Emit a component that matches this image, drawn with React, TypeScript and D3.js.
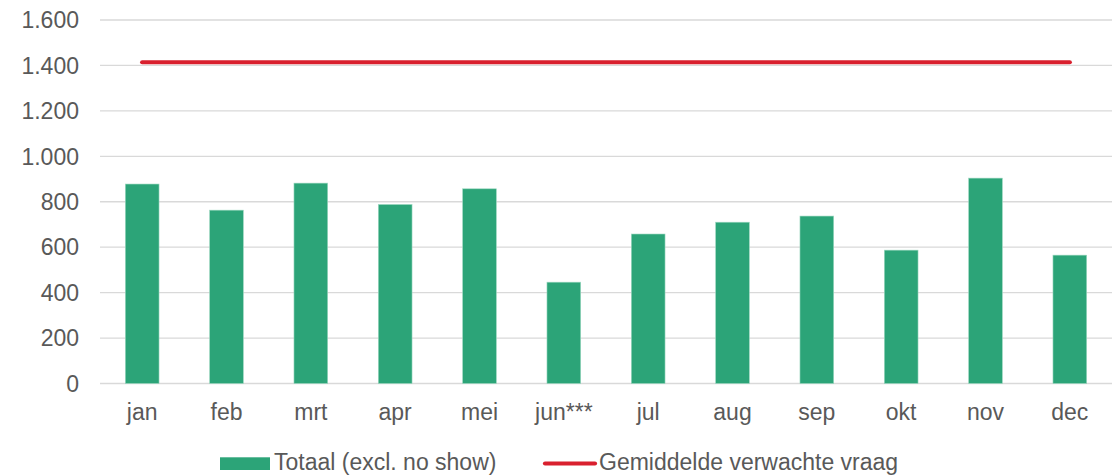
import React from 'react';
import * as d3 from 'd3';

const months = ['jan', 'feb', 'mrt', 'apr', 'mei', 'jun***', 'jul', 'aug', 'sep', 'okt', 'nov', 'dec'];
const totaal = [878, 763, 882, 788, 857, 446, 658, 710, 737, 587, 904, 565];
const verwacht = [1414, 1414, 1414, 1414, 1414, 1414, 1414, 1414, 1414, 1414, 1414, 1414];
const yTicks = [0, 200, 400, 600, 800, 1000, 1200, 1400, 1600];

const W = 1119;
const H = 475;
const left = 100;
const right = 1112;
const top = 20;
const bottom = 383.5;
const font = '"Liberation Sans", Arial, sans-serif';
const textColor = '#595959';
const fs = 23;

const fmt = (v: number) => d3.format(',')(v).replace(/,/g, '.');

const App: React.FC = () => {
  const xc = d3.scaleBand<string>().domain(months).range([left, right]);
  const y = d3.scaleLinear().domain([0, 1600]).range([bottom, top]);
  const barW = xc.bandwidth() * 0.4;

  const line = d3.line<number>()
    .x((_, i) => xc(months[i])! + xc.bandwidth() / 2)
    .y(d => y(d));

  return (
    <svg width={W} height={H} style={{ position: 'absolute', left: 0, top: 0 }} fontFamily={font}>
      {yTicks.map(t => (
        <g key={t}>
          <line x1={left} x2={right} y1={y(t)} y2={y(t)} stroke="#d9d9d9" strokeWidth={1.3} />
          <text x={79} y={y(t)} dy="0.36em" textAnchor="end" fontSize={fs} fill={textColor}>{fmt(t)}</text>
        </g>
      ))}
      {months.map((m, i) => (
        <rect
          key={m}
          x={xc(m)! + (xc.bandwidth() - barW) / 2}
          width={barW}
          y={y(totaal[i])}
          height={bottom - y(totaal[i])}
          fill="#2ca478"
          stroke="#9fd9c2"
          strokeWidth={0.6}
        />
      ))}
      <path d={line(verwacht)!} fill="none" stroke="#d9202e" strokeWidth={4.2} strokeLinecap="round" />
      {months.map(m => (
        <text key={m} x={xc(m)! + xc.bandwidth() / 2} y={420} textAnchor="middle" fontSize={fs} fill={textColor}>{m}</text>
      ))}
      <g>
        <rect x={220} y={457.3} width={50} height={12.7} fill="#2ca478" />
        <text x={274} y={470} fontSize={fs} fill={textColor}>Totaal (excl. no show)</text>
        <line x1={545} x2={595} y1={463.5} y2={463.5} stroke="#d9202e" strokeWidth={4.2} strokeLinecap="round" />
        <text x={599} y={470} fontSize={fs} fill={textColor}>Gemiddelde verwachte vraag</text>
      </g>
    </svg>
  );
};

export default App;
